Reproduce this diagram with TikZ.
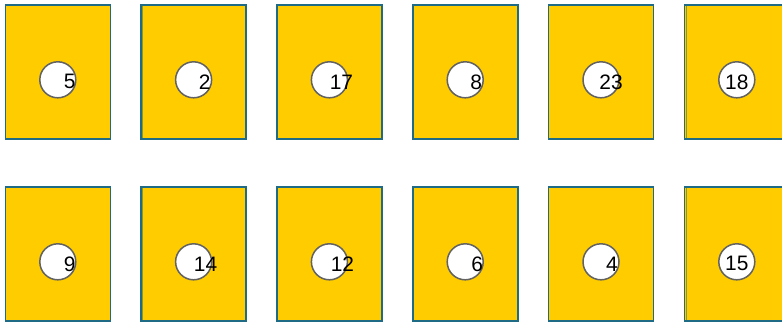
\documentclass[tikz,border=0pt]{standalone}
\usepackage{fontspec}
\setmainfont{Liberation Sans}
\definecolor{boxfill}{HTML}{FFCC00}
\definecolor{boxedge}{HTML}{1F6B85}
\definecolor{olive}{HTML}{8A9A2A}
\definecolor{ringgray}{HTML}{626262}
\begin{document}
\begin{tikzpicture}[x=1bp,y=-1bp,
  cardbox/.style={draw=boxedge,fill=boxfill,line width=1.6bp,minimum width=105bp,minimum height=134bp,inner sep=0pt,anchor=north west},
  ring/.style={circle,draw=ringgray,fill=white,line width=1.5bp,minimum size=36bp,inner sep=0pt},
  numlabel/.style={inner sep=0pt,font=\fontsize{21}{21}\selectfont}]
\useasboundingbox (0,0) rectangle (782,322);
\foreach \n/\col/\row/\lab/\dx in {1/0/0/5/12,2/1/0/2/11,3/2/0/17/12,4/3/0/8/11,5/4/0/23/10,6/5/0/18/0,
                                  7/0/1/9/12,8/1/1/14/12,9/2/1/12/13,10/3/1/6/12,11/4/1/4/11,12/5/1/15/0}{
  \pgfmathsetmacro{\bx}{4.5+135.8*\col}
  \pgfmathsetmacro{\by}{4+182*\row}
  \node[cardbox] (r\n) at (\bx,\by) {};
  \node[ring] (c\n) at ([yshift=-8bp]r\n.center) {};
  \node[numlabel] (t\n) at ([xshift=\dx bp,yshift=-2bp]c\n.center) {\lab};
}
\foreach \n in {2,6,8,12}{
  \draw[olive,line width=1bp] ([xshift=2.5bp,yshift=-1.5bp]r\n.north west) -- ([xshift=2.5bp,yshift=1.5bp]r\n.south west);
}
\end{tikzpicture}
\end{document}
